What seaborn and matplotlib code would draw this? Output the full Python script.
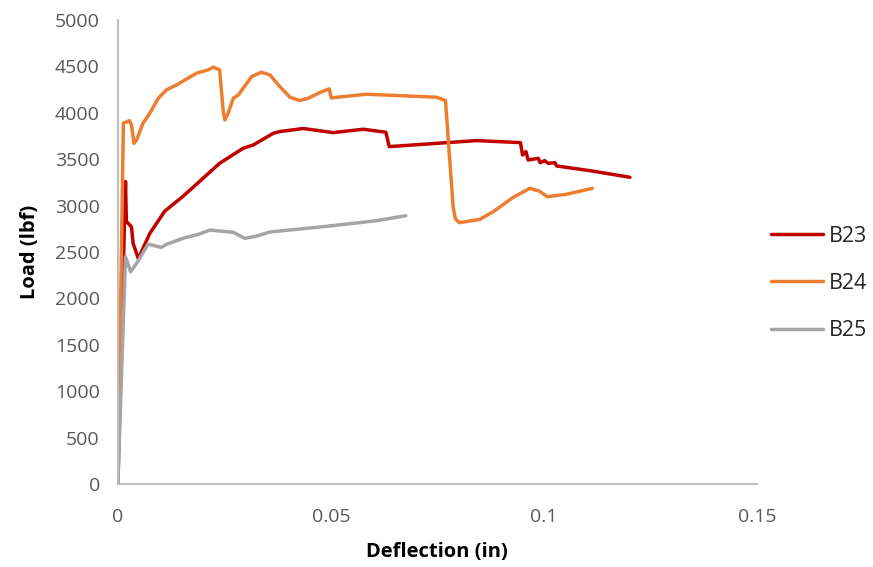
import matplotlib

matplotlib.use("Agg")

import matplotlib.pyplot as plt
import pandas as pd
import seaborn as sns

# B23 load-deflection curve
b23_x = [0, 0.0018, 0.0020, 0.0032, 0.0036, 0.0048, 0.0075, 0.0110, 0.0153, 0.0239,
         0.0294, 0.0318, 0.0365, 0.0380, 0.0435, 0.0505, 0.0576, 0.0629, 0.0637, 0.0842,
         0.0945, 0.0950, 0.0958, 0.0963, 0.0987, 0.0991, 0.1002, 0.1010, 0.1026, 0.1030,
         0.1108, 0.1202]
b23_y = [0, 3260, 2830, 2770, 2590, 2430, 2700, 2940, 3100, 3456,
         3617, 3653, 3779, 3797, 3830, 3786, 3822, 3790, 3635, 3700,
         3678, 3545, 3581, 3491, 3509, 3462, 3484, 3455, 3462, 3427,
         3376, 3305]

# B24 load-deflection curve
b24_x = [0, 0.0013, 0.0027, 0.0032, 0.0038, 0.0044, 0.0059, 0.0075, 0.0095, 0.0114,
         0.0138, 0.0185, 0.0212, 0.0224, 0.0239, 0.0247, 0.0251, 0.0259, 0.0271, 0.0283,
         0.0314, 0.0337, 0.0357, 0.0380, 0.0404, 0.0427, 0.0447, 0.0474, 0.0496, 0.0501,
         0.0584, 0.0748, 0.0769, 0.0787, 0.0792, 0.0801, 0.0850, 0.0881, 0.0928, 0.0967,
         0.0989, 0.1008, 0.1053, 0.1114]
b24_y = [0, 3887, 3915, 3869, 3671, 3707, 3887, 3995, 4156, 4246,
         4300, 4426, 4461, 4490, 4461, 4030, 3922, 3995, 4156, 4192,
         4389, 4436, 4407, 4282, 4167, 4131, 4156, 4217, 4257, 4160,
         4199, 4167, 4131, 2988, 2863, 2816, 2852, 2934, 3089, 3186,
         3157, 3096, 3122, 3186]

# B25 load-deflection curve
b25_x = [0, 0.0018, 0.0030, 0.0044, 0.0071, 0.0102, 0.0114, 0.0157, 0.0189, 0.0216,
         0.0271, 0.0298, 0.0326, 0.0357, 0.0427, 0.0482, 0.0607, 0.0676]
b25_y = [0, 2449, 2288, 2378, 2586, 2550, 2583, 2654, 2690, 2737,
         2712, 2647, 2672, 2716, 2748, 2773, 2837, 2891]

series = {"B23": (b23_x, b23_y), "B24": (b24_x, b24_y), "B25": (b25_x, b25_y)}
colors = {"B23": "#C00000", "B24": "#ED7D31", "B25": "#A5A5A5"}

frames = []
for name, (xs, ys) in series.items():
    part = pd.DataFrame({"Deflection": xs, "Load": ys})
    part["Specimen"] = name
    frames.append(part)
df = pd.concat(frames, ignore_index=True)

sns.set_theme(style="white")
plt.rcParams["font.family"] = ["Open Sans", "DejaVu Sans"]

fig = plt.figure(figsize=(8.73, 5.67), dpi=100)
ax = fig.add_axes([0.135, 0.146, 0.732, 0.819])

sns.lineplot(data=df, x="Deflection", y="Load", hue="Specimen", palette=colors,
             sort=False, estimator=None, units="Specimen", linewidth=2.5, ax=ax,
             legend=True)

ax.set_xlim(0, 0.15)
ax.set_ylim(0, 5000)
ax.set_xticks([0, 0.05, 0.1, 0.15])
ax.set_xticklabels(["0", "0.05", "0.1", "0.15"])
ax.set_yticks(range(0, 5001, 500))
ax.tick_params(axis="both", length=0, labelsize=14, colors="#595959")
ax.tick_params(axis="x", pad=17)
ax.tick_params(axis="y", pad=13)
for side in ["top", "right"]:
    ax.spines[side].set_visible(False)
for side in ["left", "bottom"]:
    ax.spines[side].set_color("#BFBFBF")
    ax.spines[side].set_linewidth(1.5)

ax.set_xlabel("Deflection (in)", fontsize=14.5, fontweight="bold", color="black", labelpad=12)
ax.set_ylabel("Load (lbf)", fontsize=14.5, fontweight="bold", color="black", labelpad=11)

handles, labels = ax.get_legend_handles_labels()
ax.get_legend().remove()
fig.legend(handles, labels, loc="center left", bbox_to_anchor=(0.883, 0.500),
           frameon=False, fontsize=15.5, handlelength=2.4, labelspacing=1.22,
           handletextpad=0.28, borderpad=0, borderaxespad=0)

plt.savefig("out.png", dpi=100)
